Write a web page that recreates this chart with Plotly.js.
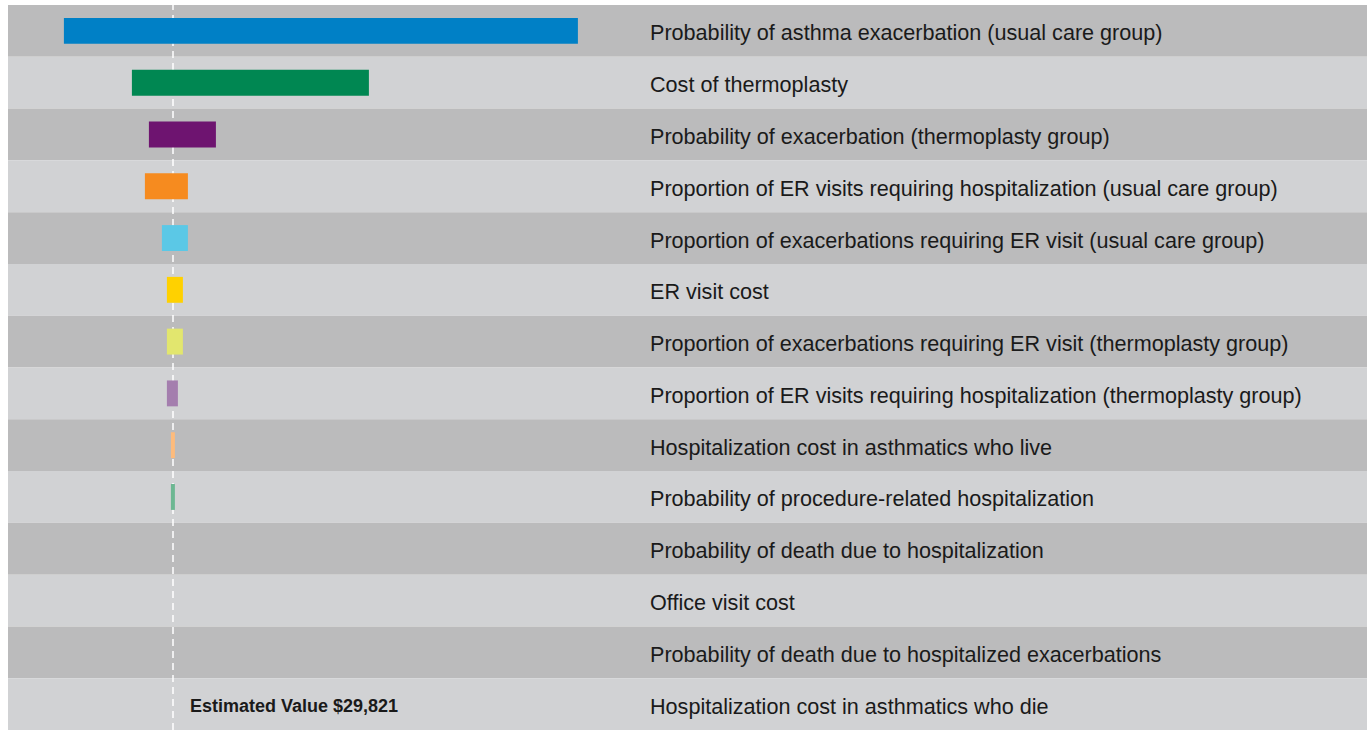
<!DOCTYPE html>
<html>
<head>
<meta charset="utf-8">
<script src="https://cdn.plot.ly/plotly-3.0.1.min.js"></script>
<style>html,body{margin:0;padding:0;background:#fff;}#chart{width:1367px;height:730px;}</style>
</head>
<body>
<div id="chart"></div>
<script>
var categories = [
  "Probability of asthma exacerbation (usual care group)",
  "Cost of thermoplasty",
  "Probability of exacerbation (thermoplasty group)",
  "Proportion of ER visits requiring hospitalization (usual care group)",
  "Proportion of exacerbations requiring ER visit (usual care group)",
  "ER visit cost",
  "Proportion of exacerbations requiring ER visit (thermoplasty group)",
  "Proportion of ER visits requiring hospitalization (thermoplasty group)",
  "Hospitalization cost in asthmatics who live",
  "Probability of procedure-related hospitalization",
  "Probability of death due to hospitalization",
  "Office visit cost",
  "Probability of death due to hospitalized exacerbations",
  "Hospitalization cost in asthmatics who die"
];
var estimatedValue = 29821;
var lowValues  = [8000, 21600, 25000, 24200, 27600, 28600, 28600, 28600, 29400, 29400, 29821, 29821, 29821, 29821];
var highValues = [110800, 69000, 38400, 32800, 32800, 31800, 31800, 30800, 30200, 30200, 29821, 29821, 29821, 29821];
var barColors = ["#0080c6", "#008752", "#6e1470", "#f68b1f", "#5bc8e6", "#ffd100", "#e2e66e", "#a47eae", "#fdbb7c", "#6db792", "#888888", "#888888", "#888888", "#888888"];
var xRange = [-3179, 268621];
var bandColors = ["#bbbbbc", "#d1d2d4"];

var barTrace = {
  type: "bar", orientation: "h",
  y: categories,
  x: highValues.map(function(h, i){ return h - lowValues[i]; }),
  base: lowValues,
  width: 0.5,
  marker: {color: barColors, line: {width: 0}},
  showlegend: false,
  hovertemplate: "%{y}<br>%{base:$,.0f} – %{x:$,.0f}<extra></extra>"
};

var shapes = categories.map(function(c, i){
  return {
    type: "rect", xref: "paper", yref: "y", x0: 0, x1: 1, y0: i - 0.5, y1: i + 0.5,
    fillcolor: bandColors[i % 2], line: {width: 0}, layer: "below"
  };
});
shapes.push({
  type: "line", xref: "x", yref: "paper", x0: estimatedValue, x1: estimatedValue, y0: 0, y1: 1,
  line: {color: "#ffffff", width: 1.5, dash: "7px,5px"}, layer: "between"
});

var labelFont = {family: "Liberation Sans, Arial, sans-serif", size: 21.6, color: "#1a1a1a"};
var annotations = categories.map(function(c){
  return {
    text: c, xref: "paper", x: 0.4724, y: c, yref: "y", yshift: -2, xshift: -2,
    xanchor: "left", yanchor: "middle", showarrow: false,
    font: labelFont
  };
});
annotations.push({
  text: "<b>Estimated Value $" + estimatedValue.toLocaleString("en-US") + "</b>",
  xref: "x", x: estimatedValue + 3400, y: categories[categories.length - 1], yref: "y", yshift: -1.5, xshift: -2,
  xanchor: "left", yanchor: "middle", showarrow: false,
  font: {family: "Liberation Sans, Arial, sans-serif", size: 18, color: "#1a1a1a"}
});

var layout = {
  width: 1367, height: 730,
  margin: {l: 8, r: 0, t: 5, b: 0},
  paper_bgcolor: "#ffffff", plot_bgcolor: "#ffffff",
  barmode: "overlay",
  showlegend: false,
  xaxis: {range: xRange, showgrid: false, zeroline: false, showticklabels: false, showline: false, fixedrange: true},
  yaxis: {categoryorder: "array", categoryarray: categories, range: [categories.length - 0.5, -0.5],
          showgrid: false, zeroline: false, showticklabels: false, showline: false, fixedrange: true},
  shapes: shapes,
  annotations: annotations
};

Plotly.newPlot("chart", [barTrace], layout, {displayModeBar: false});
</script>
</body>
</html>
